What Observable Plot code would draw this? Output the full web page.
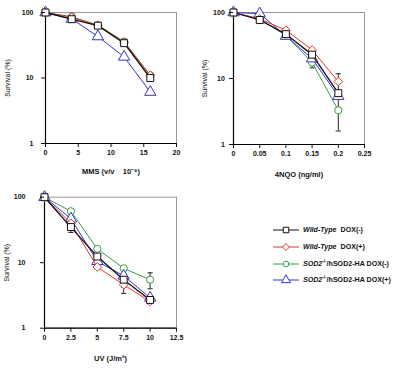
<!DOCTYPE html>
<html>
<head>
<meta charset="utf-8">
<script src="https://cdn.jsdelivr.net/npm/d3@7"></script>
<script src="https://cdn.jsdelivr.net/npm/@observablehq/plot@0.6"></script>
<style>
  body { margin: 0; background: #fff; font-family: "Liberation Sans", Arial, sans-serif; }
  #chart { position: relative; width: 394px; height: 371px; overflow: hidden; background: #fff; }
  .panel { position: absolute; }
  g[aria-label="y-axis label"] { font-weight: normal; font-size: 7px; }
  g[aria-label="x-axis label"] { font-size: 7.5px; }
  .legend { position: absolute; left: 273px; top: 221.6px; font-weight: bold; font-size: 7.1px; white-space: nowrap; color: #111; }
  .legend .row { display: flex; align-items: center; height: 16.8px; }
  .legend svg { flex: none; margin-right: 2px; }
  .legend sup { font-size: 4.5px; vertical-align: 3px; line-height: 0; }
</style>
</head>
<body>
<div id="chart"></div>
<script>
// Series (strains / treatments)
const groups = ["WT-", "WT+", "SOD-", "SOD+"];
const groupColors = ["#111111", "#e3362c", "#3b9a46", "#3434d4"];
const groupSymbols = ["square", "diamond2", "circle", "triangle"];
const drawOrder = ["SOD-", "SOD+", "WT+", "WT-"];

// MMS survival (%)
const mmsDose = [0, 4, 8, 12, 16];
const mmsWtMinus = [100, 79, 63, 34, 10];
const mmsWtPlus = [100, 85, 64, 35, 11];
const mmsSodMinus = [100, 86, 64, 36, 11];
const mmsSodPlus = [100, 80, 43, 21, 6.1];

// 4NQO survival (%)
const nqoDose = [0, 0.05, 0.1, 0.15, 0.2];
const nqoWtMinus = [100, 77, 47, 23, 6.0];
const nqoWtPlus = [100, 80, 54, 27, 9.0];
const nqoSodMinus = [100, 80, 45, 17.5, 3.3];
const nqoSodPlus = [100, 96, 44, 20, 5.4];
const nqoErrWtMinus = [0, 9, 0, 0, 0];
const nqoErrWtPlus = [0, 0, 0, 0, 2.8];
const nqoErrSodMinus = [0, 0, 0, 3, 1.7];

// UV survival (%)
const uvDose = [0, 2.5, 5, 7.5, 10];
const uvWtMinus = [100, 35, 12.4, 5.5, 2.7];
const uvWtPlus = [100, 40, 8.6, 4.6, 2.55];
const uvSodMinus = [100, 61, 16.3, 8.2, 5.5];
const uvSodPlus = [100, 47, 10.5, 6.3, 2.9];
const uvErrWtMinus = [0, 6, 0, 1.3, 0];
const uvErrWtPlus = [0, 0, 0, 1.2, 0];
const uvErrSodMinus = [0, 0, 0, 0, 1.5];

const yTicks = [1, 10, 100];
const mmsTicks = [0, 5, 10, 15, 20];
const nqoTicks = [0, 0.05, 0.1, 0.15, 0.2, 0.25];
const uvTicks = [0, 2.5, 5, 7.5, 10, 12.5];

function table(dose, seriesValues, seriesErrs = {}) {
  const out = [];
  groups.forEach((g, i) => {
    dose.forEach((x, j) => {
      const err = seriesErrs[g] ? seriesErrs[g][j] : 0;
      out.push({group: g, dose: x, value: seriesValues[i][j], err});
    });
  });
  return out;
}

// marker radius per series
const markerR = g => (g === "SOD-" ? 3.6 : g === "SOD+" ? 4.2 : 3.9);

// short horizontal stroke used as the error-bar cap
const capSymbol = { draw(ctx) { ctx.moveTo(-2.6, 0); ctx.lineTo(2.6, 0); } };

function panel(o) {
  const data = o.data;
  const errs = data.filter(d => d.err > 0);
  const marks = [
    Plot.frame({stroke: "#9a9a9a", strokeWidth: 1}),
    Plot.ruleX([o.xDomain[0]], {stroke: "#000", strokeWidth: 1.2}),
    Plot.ruleY([1], {stroke: "#000", strokeWidth: 1.2}),
    Plot.ruleX(errs, {x: "dose", y1: d => d.value - d.err, y2: d => d.value + d.err, stroke: "#222", strokeWidth: 1}),
    Plot.dot(errs, {x: "dose", y: d => d.value - d.err, symbol: capSymbol, stroke: "#222", strokeWidth: 1}),
    Plot.dot(errs, {x: "dose", y: d => d.value + d.err, symbol: capSymbol, stroke: "#222", strokeWidth: 1})
  ];
  for (const g of drawOrder) {
    const s = data.filter(d => d.group === g);
    marks.push(Plot.line(s, {x: "dose", y: "value", stroke: "group", strokeWidth: g === "WT-" ? 1.3 : 1}));
    marks.push(Plot.dot(s, {x: "dose", y: "value", symbol: "group", stroke: "group", fill: "white", strokeWidth: 1, r: markerR(g)}));
  }
  marks.push(
    Plot.axisY({ticks: yTicks, tickFormat: d => String(d), tickSize: 4, tickPadding: o.yPad,
      fontWeight: "bold", fontSize: 7, label: "Survival (%)", labelAnchor: "center", labelArrow: "none", labelOffset: o.yLabelOffset}),
    Plot.axisX({ticks: o.xTicks, tickFormat: d => String(d), tickSize: 4, tickPadding: 3,
      fontWeight: "bold", fontSize: 7, label: o.xLabel, labelAnchor: "center", labelArrow: "none", labelOffset: o.xLabelOffset})
  );
  const svg = Plot.plot({
    width: o.width, height: o.height,
    marginLeft: o.margin[0], marginRight: o.margin[1], marginTop: o.margin[2], marginBottom: o.margin[3],
    x: {domain: o.xDomain},
    y: {type: "log", domain: [1, 100]},
    color: {domain: groups, range: groupColors},
    symbol: {domain: groups, range: groupSymbols},
    style: {fontFamily: "'Liberation Sans', Arial, sans-serif", background: "transparent", overflow: "visible", color: "#111"},
    marks
  });
  svg.classList.add("panel");
  svg.style.left = o.left + "px";
  svg.style.top = o.top + "px";
  document.getElementById("chart").appendChild(svg);
}

panel({
  data: table(mmsDose, [mmsWtMinus, mmsWtPlus, mmsSodMinus, mmsSodPlus]),
  xDomain: [0, 20], xTicks: mmsTicks, xLabel: "MMS (v/v    10\u207B\u2076)",
  width: 190, height: 180, margin: [45, 14, 12, 37], yPad: 8, yLabelOffset: 40, xLabelOffset: 30,
  left: 0, top: 0
});

panel({
  data: table(nqoDose, [nqoWtMinus, nqoWtPlus, nqoSodMinus, nqoSodPlus],
    {"WT-": nqoErrWtMinus, "WT+": nqoErrWtPlus, "SOD-": nqoErrSodMinus}),
  xDomain: [0, 0.25], xTicks: nqoTicks, xLabel: "4NQO (ng/ml)",
  width: 190, height: 180, margin: [33, 26, 12, 36], yPad: 4.7, yLabelOffset: 31.5, xLabelOffset: 32,
  left: 200, top: 0
});

panel({
  data: table(uvDose, [uvWtMinus, uvWtPlus, uvSodMinus, uvSodPlus],
    {"WT-": uvErrWtMinus, "WT+": uvErrWtPlus, "SOD-": uvErrSodMinus}),
  xDomain: [0, 12.5], xTicks: uvTicks, xLabel: "UV (J/m\u00B2)",
  width: 190, height: 191, margin: [44, 14, 16.7, 43.3], yPad: 15, yLabelOffset: 40, xLabelOffset: 33,
  left: 0, top: 180
});

// Legend
const legendLabels = [
  "<i>Wild-Type</i>&nbsp; DOX(-)",
  "<i>Wild-Type</i>&nbsp; DOX(+)",
  "<i>SOD2</i><sup>-/-</sup>/hSOD2-HA DOX(-)",
  "<i>SOD2</i><sup>-/-</sup>/hSOD2-HA DOX(+)"
];
const symbolTypes = {square: d3.symbolSquare, diamond2: d3.symbolDiamond2, circle: d3.symbolCircle, triangle: d3.symbolTriangle};
const legend = document.createElement("div");
legend.className = "legend";
groups.forEach((g, i) => {
  const row = document.createElement("div");
  row.className = "row";
  const r = markerR(g) * 0.8;
  const path = d3.symbol(symbolTypes[groupSymbols[i]], Math.PI * r * r)();
  row.innerHTML = `<svg width="28" height="12" viewBox="0 0 28 12">
      <line x1="0" x2="26" y1="6" y2="6" stroke="${groupColors[i]}" stroke-width="1"/>
      <path transform="translate(13,6)" d="${path}" fill="white" stroke="${groupColors[i]}" stroke-width="1"/>
    </svg><span>${legendLabels[i]}</span>`;
  legend.appendChild(row);
});
document.getElementById("chart").appendChild(legend);
</script>
</body>
</html>
